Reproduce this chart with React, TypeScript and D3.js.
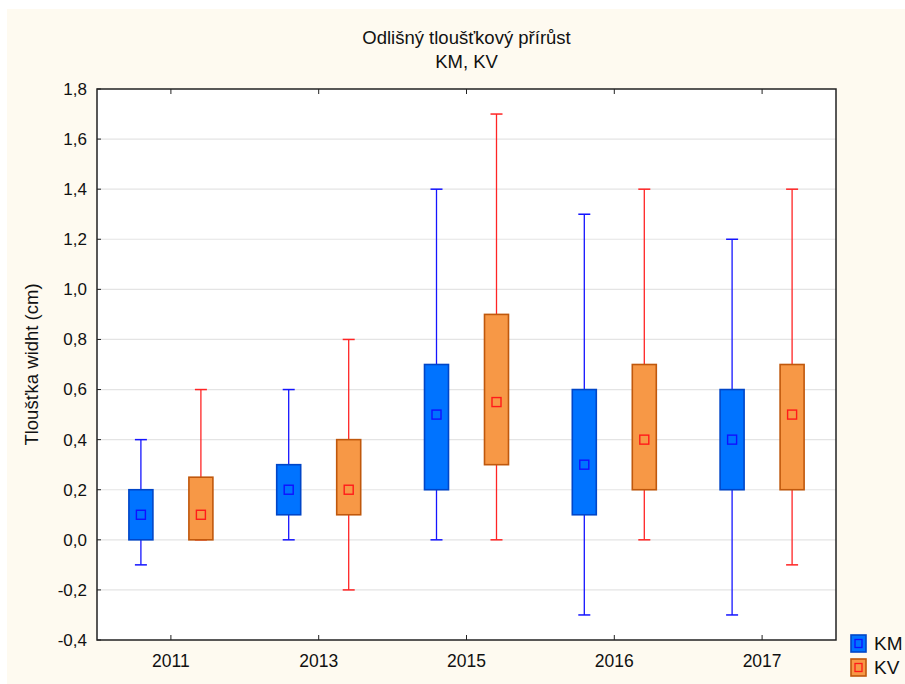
import { useEffect, useRef } from 'react'
import * as d3 from 'd3'

const years = ['2011', '2013', '2015', '2016', '2017']
const series = ['KM', 'KV']

// [min, q1, median, q3, max] per year
const kmStats = [
  [-0.1, 0.0, 0.1, 0.2, 0.4],
  [0.0, 0.1, 0.2, 0.3, 0.6],
  [0.0, 0.2, 0.5, 0.7, 1.4],
  [-0.3, 0.1, 0.3, 0.6, 1.3],
  [-0.3, 0.2, 0.4, 0.6, 1.2],
]
const kvStats = [
  [0.0, 0.0, 0.1, 0.25, 0.6],
  [-0.2, 0.1, 0.2, 0.4, 0.8],
  [0.0, 0.3, 0.55, 0.9, 1.7],
  [0.0, 0.2, 0.4, 0.7, 1.4],
  [-0.1, 0.2, 0.5, 0.7, 1.4],
]
const yTicks = [-0.4, -0.2, 0, 0.2, 0.4, 0.6, 0.8, 1.0, 1.2, 1.4, 1.6, 1.8]

const styles = {
  KM: { fill: '#0073ff', stroke: '#0046c8', whisker: '#1414ff', med: '#1010ff' },
  KV: { fill: '#f79846', stroke: '#c0580c', whisker: '#ff2424', med: '#ff1a1a' },
}

export default function App() {
  const svgRef = useRef<SVGSVGElement>(null)

  useEffect(() => {
    if (!svgRef.current) return
    const width = 905
    const height = 684
    const margin = { top: 89, right: 69, bottom: 44, left: 97 }
    const innerWidth = width - margin.left - margin.right
    const innerHeight = height - margin.top - margin.bottom

    const svg = d3.select(svgRef.current)
    svg.selectAll('*').remove()
    svg.attr('width', width).attr('height', height)

    svg.append('rect').attr('x', 7).attr('y', 9).attr('width', 898).attr('height', 675)
      .attr('fill', '#fefaf0')

    const g = svg.append('g').attr('transform', `translate(${margin.left},${margin.top})`)

    const x = d3.scaleBand().domain(years).range([0, innerWidth])
    const y = d3.scaleLinear().domain([-0.4, 1.8]).range([innerHeight, 0])
    const fmt = (v: number) => d3.format('.1f')(v).replace('.', ',').replace('−', '-')

    g.append('rect').attr('width', innerWidth).attr('height', innerHeight).attr('fill', '#fff')

    // grid
    g.append('g')
      .selectAll('line')
      .data(yTicks.slice(1, -1))
      .join('line')
      .attr('x1', 0).attr('x2', innerWidth)
      .attr('y1', d => y(d)).attr('y2', d => y(d))
      .attr('stroke', '#e4e4e4').attr('stroke-width', 1.2)

    const offset = 30
    const boxW = 24
    const all = [kmStats, kvStats]
    series.forEach((s, si) => {
      const st = styles[s as 'KM' | 'KV']
      const data = all[si]
      const grp = g.append('g')
      data.forEach((d, i) => {
        const cx = x(years[i])! + x.bandwidth() / 2 + (si === 0 ? -offset : offset)
        const [mn, q1, md, q3, mx] = d
        grp.append('line').attr('x1', cx).attr('x2', cx).attr('y1', y(mx)).attr('y2', y(q3))
          .attr('stroke', st.whisker).attr('stroke-width', 1.3)
        grp.append('line').attr('x1', cx).attr('x2', cx).attr('y1', y(q1)).attr('y2', y(mn))
          .attr('stroke', st.whisker).attr('stroke-width', 1.3)
        ;[mn, mx].forEach(v => {
          grp.append('line').attr('x1', cx - 6).attr('x2', cx + 6).attr('y1', y(v)).attr('y2', y(v))
            .attr('stroke', st.whisker).attr('stroke-width', 1.5)
        })
        grp.append('rect').attr('x', cx - boxW / 2).attr('y', y(q3))
          .attr('width', boxW).attr('height', y(q1) - y(q3))
          .attr('fill', st.fill).attr('stroke', st.stroke).attr('stroke-width', 1.6)
        grp.append('rect').attr('x', cx - 4.5).attr('y', y(md) - 4.5).attr('width', 9).attr('height', 9)
          .attr('fill', 'none').attr('stroke', st.med).attr('stroke-width', 1.4)
      })
    })

    // frame
    g.append('rect').attr('width', innerWidth).attr('height', innerHeight)
      .attr('fill', 'none').attr('stroke', '#222').attr('stroke-width', 1.5)

    // ticks
    g.append('g').selectAll('line').data(yTicks).join('line')
      .attr('x1', 0).attr('x2', 4).attr('y1', d => y(d)).attr('y2', d => y(d))
      .attr('stroke', '#222')
    g.append('g').selectAll('line').data(years).join('line')
      .attr('x1', d => x(d)! + x.bandwidth() / 2).attr('x2', d => x(d)! + x.bandwidth() / 2)
      .attr('y1', 0).attr('y2', 5).attr('stroke', '#222')
    g.append('g').selectAll('line').data(years).join('line')
      .attr('x1', d => x(d)! + x.bandwidth() / 2).attr('x2', d => x(d)! + x.bandwidth() / 2)
      .attr('y1', innerHeight).attr('y2', innerHeight - 5).attr('stroke', '#222')

    const font = 'Liberation Sans, Arial, sans-serif'
    g.append('g').selectAll('text').data(yTicks).join('text')
      .attr('x', -10).attr('y', d => y(d)).attr('dy', '0.35em')
      .attr('text-anchor', 'end').attr('font-family', font).attr('font-size', 17)
      .attr('fill', '#111').text(d => fmt(d))
    g.append('g').selectAll('text').data(years).join('text')
      .attr('x', d => x(d)! + x.bandwidth() / 2).attr('y', innerHeight + 27)
      .attr('text-anchor', 'middle').attr('font-family', font).attr('font-size', 17.5)
      .attr('fill', '#111').text(d => d)

    svg.append('text').attr('x', margin.left + innerWidth / 2).attr('y', 44)
      .attr('text-anchor', 'middle').attr('font-family', font).attr('font-size', 18.5)
      .attr('fill', '#111').text('Odlišný tloušťkový přírůst')
    svg.append('text').attr('x', margin.left + innerWidth / 2).attr('y', 68)
      .attr('text-anchor', 'middle').attr('font-family', font).attr('font-size', 18.5)
      .attr('fill', '#111').text('KM, KV')
    svg.append('text')
      .attr('transform', `translate(38,${margin.top + innerHeight / 2}) rotate(-90)`)
      .attr('text-anchor', 'middle').attr('font-family', font).attr('font-size', 18.5)
      .attr('fill', '#111').text('Tloušťka widht (cm)')

    // legend
    const leg = svg.append('g').attr('transform', 'translate(851,635)')
    series.forEach((s, i) => {
      const st = styles[s as 'KM' | 'KV']
      const row = leg.append('g').attr('transform', `translate(0,${i * 24})`)
      row.append('rect').attr('width', 15).attr('height', 17)
        .attr('fill', st.fill).attr('stroke', st.stroke).attr('stroke-width', 1.6)
      row.append('rect').attr('x', 4).attr('y', 4.5).attr('width', 7).attr('height', 8)
        .attr('fill', 'none').attr('stroke', st.med).attr('stroke-width', 1.3)
      row.append('text').attr('x', 23).attr('y', 8.5).attr('dy', '0.36em')
        .attr('font-family', font).attr('font-size', 19).attr('fill', '#111').text(s)
    })
  }, [])

  return (
    <div style={{ position: 'absolute', left: 0, top: 0 }}>
      <svg ref={svgRef} style={{ display: 'block' }} />
    </div>
  )
}
